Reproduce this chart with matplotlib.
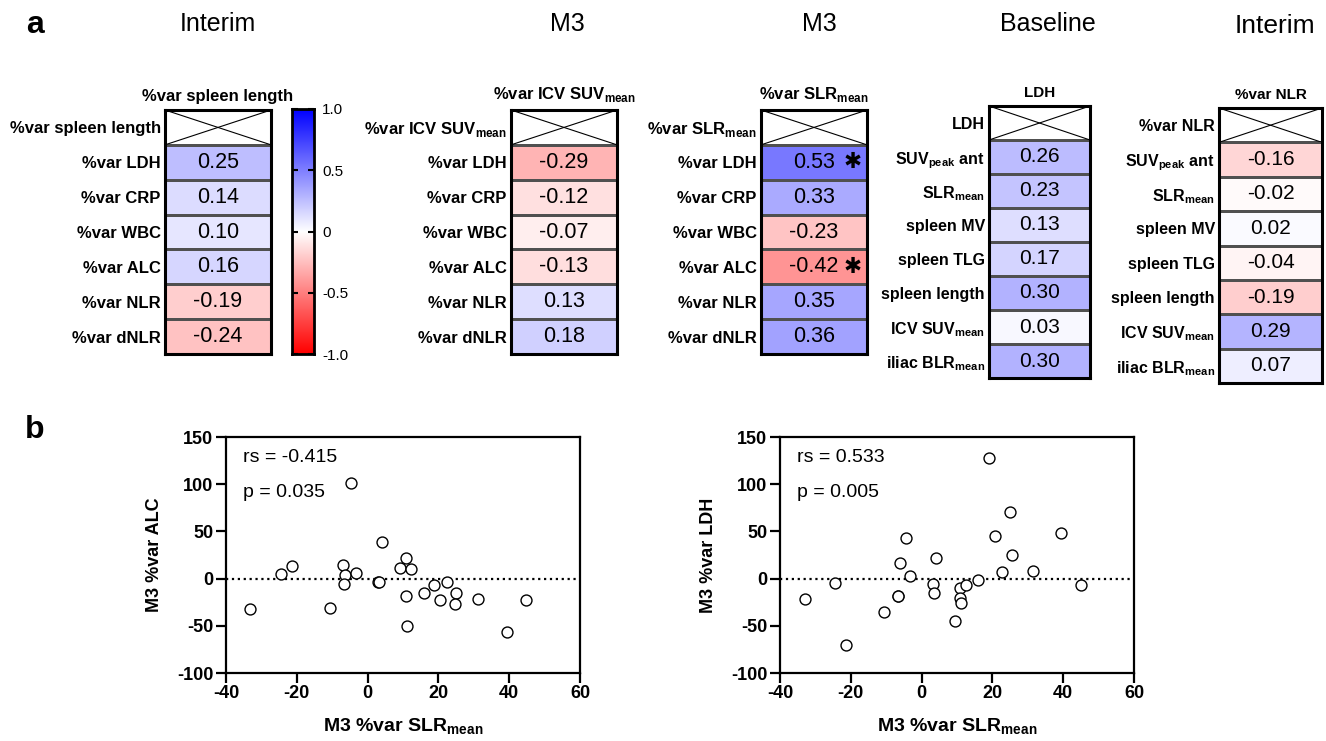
import numpy as np
import matplotlib
matplotlib.use("Agg")
import matplotlib.pyplot as plt
from matplotlib.colors import LinearSegmentedColormap

plt.rcParams['font.family'] = ['Liberation Sans', 'DejaVu Sans']
plt.rcParams['mathtext.fontset'] = 'custom'
plt.rcParams['mathtext.rm'] = 'Liberation Sans'
plt.rcParams['mathtext.bf'] = 'Liberation Sans:bold'

# correlation heatmaps (first row is the reference variable itself)
spl_col = '%var spleen length'
spl_rows = ['%var spleen length', '%var LDH', '%var CRP', '%var WBC',
            '%var ALC', '%var NLR', '%var dNLR']
spl_vals = [np.nan, 0.25, 0.14, 0.10, 0.16, -0.19, -0.24]

icv_col = r'%var ICV SUV$_\mathbf{mean}$'
icv_rows = [r'%var ICV SUV$_\mathbf{mean}$', '%var LDH', '%var CRP', '%var WBC',
            '%var ALC', '%var NLR', '%var dNLR']
icv_vals = [np.nan, -0.29, -0.12, -0.07, -0.13, 0.13, 0.18]

slr_col = r'%var SLR$_\mathbf{mean}$'
slr_rows = [r'%var SLR$_\mathbf{mean}$', '%var LDH', '%var CRP', '%var WBC',
            '%var ALC', '%var NLR', '%var dNLR']
slr_vals = [np.nan, 0.53, 0.33, -0.23, -0.42, 0.35, 0.36]
slr_sig = [False, True, False, False, True, False, False]

pet_rows = [r'SUV$_\mathbf{peak}$ ant', r'SLR$_\mathbf{mean}$', 'spleen MV',
            'spleen TLG', 'spleen length', r'ICV SUV$_\mathbf{mean}$',
            r'iliac BLR$_\mathbf{mean}$']
ldh_col = 'LDH'
ldh_vals = [np.nan, 0.26, 0.23, 0.13, 0.17, 0.30, 0.03, 0.30]
nlr_col = '%var NLR'
nlr_vals = [np.nan, -0.16, -0.02, 0.02, -0.04, -0.19, 0.29, 0.07]

# scatter data, M3 %var SLRmean vs ALC / LDH
alc_x = [-33.1, -24.6, -21.4, -10.6, -6.9, -6.5, -6.7, -4.6, -3.4, 3.0, 3.3, 4.0, 9.1,
         10.8, 12.4, 10.8, 11.0, 15.8, 18.7, 20.4, 22.5, 25.1, 24.8, 31.3, 39.4, 44.8]
alc_y = [-32.1, 5.3, 13.1, -31.0, 14.8, 3.5, -5.3, 101.7, 6.4, -3.2, -3.5, 39.2, 10.9,
         22.2, 10.6, -18.7, -50.5, -14.8, -6.7, -22.2, -3.9, -14.8, -26.5, -21.9, -56.1, -22.6]
ldh_x = [-33.0, -24.5, -21.4, -10.6, -6.2, -6.6, -6.7, -4.5, -3.3, 3.1, 3.4, 4.2, 9.3,
         10.8, 10.8, 11.2, 12.6, 15.9, 18.9, 20.6, 22.6, 24.9, 25.4, 31.4, 39.5, 44.9]
ldh_y = [-21.5, -4.2, -70.3, -35.7, 16.6, -18.0, -18.0, 43.1, 3.2, -5.3, -15.2, 21.5, -44.5,
         -10.2, -20.5, -25.8, -6.7, -1.8, 127.5, 45.2, 7.1, 70.3, 25.4, 8.1, 48.7, -6.7]

W, H = 1326, 741
fig = plt.figure(figsize=(W / 100, H / 100), dpi=100)
cmap = LinearSegmentedColormap.from_list('rwb', ['#ff0000', '#ffffff', '#0000ff'])


def px_axes(l, t, w, h):
    return fig.add_axes([l / W, 1 - (t + h) / H, w / W, h / H])


def heat(l, t, w, h, col, rows, vals, lsize, csize, vsize, sig=None):
    ax = px_axes(l, t, w, h)
    n = len(rows)
    data = np.ma.masked_invalid(np.array(vals, dtype=float).reshape(-1, 1))
    ax.pcolormesh([0, 1], np.arange(n + 1), data, cmap=cmap, vmin=-1, vmax=1,
                  edgecolors='#505050', linewidth=0.8)
    ax.set_xlim(0, 1)
    ax.set_ylim(n, 0)
    ax.plot([0, 1], [0, 1], color='black', lw=0.8)
    ax.plot([0, 1], [1, 0], color='black', lw=0.8)
    ax.axhline(1, color='#505050', lw=0.8)
    for i, v in enumerate(vals):
        if np.isnan(v):
            continue
        ax.text(0.5, i + 0.5, f'{v:.2f}', ha='center', va='center', fontsize=vsize)
        if sig is not None and sig[i]:
            ax.text(0.86, i + 0.5, '\u2731', ha='center', va='center',
                    fontsize=vsize, family='DejaVu Sans')
    ax.set_xticks([])
    ax.set_yticks(np.arange(n) + 0.5)
    ax.set_yticklabels(rows, fontweight='bold', fontsize=lsize)
    ax.tick_params(axis='y', length=0, pad=3)
    for s in ax.spines.values():
        s.set_linewidth(2.2)
    ax.annotate(col, (0.5, 1), xycoords='axes fraction', xytext=(0, 4),
                textcoords='offset points', ha='center', va='bottom',
                fontweight='bold', fontsize=csize)
    return ax


heat(165, 110, 106, 244, spl_col, spl_rows, spl_vals, 12, 12, 15.5)
heat(511, 110, 106, 244, icv_col, icv_rows, icv_vals, 12, 12, 15.5)
heat(761, 110, 106, 244, slr_col, slr_rows, slr_vals, 12, 12, 15.5, slr_sig)
heat(989, 106, 101, 272, ldh_col, ['LDH'] + pet_rows, ldh_vals, 11.5, 11, 15)
heat(1219, 108, 103, 275, nlr_col, ['%var NLR'] + pet_rows, nlr_vals, 11.5, 11, 15)

# colour scale
cax = px_axes(292, 109, 22, 245)
cax.imshow(np.linspace(1, -1, 256).reshape(-1, 1), cmap=cmap, vmin=-1, vmax=1,
           aspect='auto', extent=[0, 1, -1, 1])
cax.set_xticks([])
cax.yaxis.tick_right()
cax.set_yticks([-1, -0.5, 0, 0.5, 1])
cax.set_yticklabels(['-1.0', '-0.5', '0', '0.5', '1.0'], fontsize=11)
cax.tick_params(axis='y', direction='in', length=4, width=1.5, pad=6,
                left=True, right=True)
for s in cax.spines.values():
    s.set_linewidth(2)

# time point headers and panel letters
for x, y, lbl, fs in [(218, 24, 'Interim', 18), (567, 24, 'M3', 18), (819, 24, 'M3', 18),
                      (1048, 24, 'Baseline', 18), (1275, 26, 'Interim', 19)]:
    fig.text(x / W, 1 - y / H, lbl, ha='center', va='center', fontsize=fs)
fig.text(35 / W, 1 - 25 / H, 'a', ha='center', va='center', fontsize=23, fontweight='bold')
fig.text(35 / W, 1 - 430 / H, 'b', ha='center', va='center', fontsize=23, fontweight='bold')


def scatter_panel(l, x, y, ylabel, rs, p):
    ax = px_axes(l, 437, 354, 236)
    ax.axhline(0, color='black', ls=':', lw=1.6, zorder=1)
    ax.scatter(x, y, s=62, facecolors='white', edgecolors='black', linewidths=1, zorder=3)
    ax.set_xlim(-40, 60)
    ax.set_ylim(-100, 150)
    xt = [-40, -20, 0, 20, 40, 60]
    yt = [-100, -50, 0, 50, 100, 150]
    ax.set_xticks(xt, [str(v) for v in xt], fontweight='bold', fontsize=13)
    ax.set_yticks(yt, [str(v) for v in yt], fontweight='bold', fontsize=13)
    ax.tick_params(direction='out', length=7, width=1.6, pad=2)
    for s in ax.spines.values():
        s.set_linewidth(1.6)
    ax.set_xlabel(r'M3 %var SLR$_\mathbf{mean}$', fontweight='bold', fontsize=14, labelpad=10)
    ax.set_ylabel(ylabel, fontweight='bold', fontsize=13, labelpad=10)
    ax.text(0.048, 0.915, f'rs = {rs}', transform=ax.transAxes, ha='left', va='center', fontsize=14)
    ax.text(0.048, 0.763, f'p = {p}', transform=ax.transAxes, ha='left', va='center', fontsize=14)


scatter_panel(226, alc_x, alc_y, 'M3 %var ALC', '-0.415', '0.035')
scatter_panel(780, ldh_x, ldh_y, 'M3 %var LDH', '0.533', '0.005')

fig.savefig('out.png', dpi=100)
